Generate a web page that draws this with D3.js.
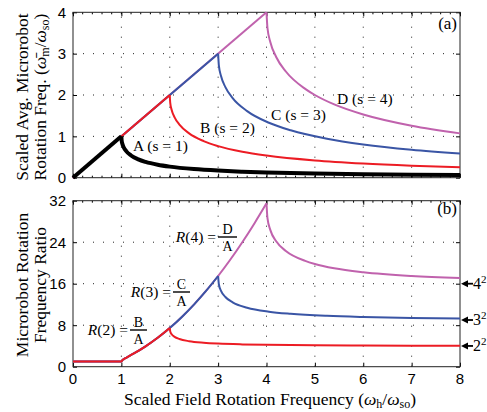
<!DOCTYPE html>
<html>
<head>
<meta charset="utf-8">
<script src="https://cdn.jsdelivr.net/npm/d3@7"></script>
<style>
  body { margin: 0; background: #fff; }
  svg { display: block; }
  .tick-lbl { font-family: "Liberation Sans", Arial, sans-serif; font-size: 15px; }
  .serif { font-family: "Liberation Serif", "Times New Roman", serif; }
</style>
</head>
<body>
<div id="chart"></div>
<script>
// x ticks shared by both panels
const xTicks = [0, 1, 2, 3, 4, 5, 6, 7, 8];
const topYTicks = [0, 1, 2, 3, 4];
const botYTicks = [0, 8, 16, 24, 32];

// (a) scaled avg. rotation freq. per robot
const speedA_x = [0, 1, 1.005, 1.02, 1.05, 1.1, 1.2, 1.35, 1.5, 1.75, 2, 2.5, 3, 3.5, 4, 5, 6, 7, 8];
const speedA_y = [0, 1, 0.905, 0.819, 0.730, 0.642, 0.537, 0.443, 0.382, 0.314, 0.268, 0.209, 0.172, 0.146, 0.127, 0.101, 0.084, 0.072, 0.063];
const speedB_x = [0, 2, 2.01, 2.04, 2.1, 2.2, 2.4, 2.7, 3, 3.5, 4, 5, 6, 7, 8];
const speedB_y = [0, 2, 1.810, 1.638, 1.460, 1.284, 1.073, 0.886, 0.764, 0.628, 0.536, 0.417, 0.343, 0.292, 0.254];
const speedC_x = [0, 3, 3.015, 3.06, 3.15, 3.3, 3.6, 4.05, 4.5, 5.25, 6, 7, 8];
const speedC_y = [0, 3, 2.715, 2.457, 2.190, 1.926, 1.611, 1.329, 1.146, 0.942, 0.804, 0.675, 0.584];
const speedD_x = [0, 4, 4.02, 4.08, 4.2, 4.4, 4.8, 5, 5.4, 6, 7, 8];
const speedD_y = [0, 4, 3.620, 3.276, 2.920, 2.568, 2.148, 2.000, 1.772, 1.528, 1.256, 1.072];

// (b) rotation frequency ratio relative to A
const ratioB_x = [0, 1, 1.02, 1.05, 1.1, 1.25, 1.5, 1.75, 2, 2.01, 2.04, 2.1, 2.2, 2.4, 2.7, 3, 3.5, 4, 5, 6, 7, 8];
const ratioB_y = [1, 1, 1.245, 1.439, 1.714, 2.5, 3.927, 5.576, 7.464, 6.79, 6.25, 5.76, 5.34, 4.92, 4.62, 4.45, 4.30, 4.22, 4.13, 4.09, 4.06, 4.05];
const ratioC_x = [0, 1, 1.02, 1.05, 1.1, 1.25, 1.5, 1.75, 2, 2.25, 2.5, 2.75, 3, 3.015, 3.06, 3.15, 3.3, 3.6, 4.05, 4.5, 5.25, 6, 7, 8];
const ratioC_y = [1, 1, 1.245, 1.439, 1.714, 2.5, 3.927, 5.576, 7.464, 9.598, 11.978, 14.607, 17.485, 15.90, 14.63, 13.44, 12.41, 11.37, 10.60, 10.19, 9.80, 9.58, 9.40, 9.31];
const ratioD_x = [0, 1, 1.02, 1.05, 1.1, 1.25, 1.5, 1.75, 2, 2.25, 2.5, 2.75, 3, 3.25, 3.5, 3.75, 4, 4.02, 4.08, 4.2, 4.4, 4.8, 5, 5.4, 6, 7, 8];
const ratioD_y = [1, 1, 1.245, 1.439, 1.714, 2.5, 3.927, 5.576, 7.464, 9.598, 11.978, 14.607, 17.485, 20.612, 23.989, 27.616, 31.492, 28.64, 26.33, 24.17, 22.31, 20.40, 19.80, 18.97, 18.21, 17.49, 17.10];

// asymptote markers on the right of (b)
const asymVals = [16, 9, 4];
const asymBase = ['4', '3', '2'];

const RED = '#ec1c24', BLUE = '#3a55a5', MAG = '#c062ad';

const W = 487, H = 412;
const left = 73, right = 460;

const svg = d3.select('#chart').append('svg')
  .attr('width', W).attr('height', H);

const x = d3.scaleLinear().domain([0, 8]).range([left, right]);
const yTop = d3.scaleLinear().domain([0, 4]).range([177.7, 12.3]);
const yBot = d3.scaleLinear().domain([0, 32]).range([366.7, 200.7]);

const minorX = d3.range(0, 8.001, 0.2);

function drawFrame(y, yTicks, minorTop, minorBottom) {
  const g = svg.append('g');
  const [y0, y1] = y.range();
  // dotted grid
  g.selectAll('.gx').data(xTicks.slice(1, -1)).join('line')
    .attr('x1', d => x(d)).attr('x2', d => x(d))
    .attr('y1', y0).attr('y2', y1)
    .attr('stroke', '#222').attr('stroke-width', 1)
    .attr('stroke-dasharray', '1,9');
  g.selectAll('.gy').data(yTicks.slice(1, -1)).join('line')
    .attr('x1', left).attr('x2', right)
    .attr('y1', d => y(d)).attr('y2', d => y(d))
    .attr('stroke', '#222').attr('stroke-width', 1)
    .attr('stroke-dasharray', '1,9');

  // minor x ticks
  if (minorBottom) {
    g.selectAll('.mb').data(minorX).join('line')
      .attr('x1', d => x(d)).attr('x2', d => x(d))
      .attr('y1', y0).attr('y2', y0 - 2).attr('stroke', '#000');
  }
  if (minorTop) {
    g.selectAll('.mt').data(minorX).join('line')
      .attr('x1', d => x(d)).attr('x2', d => x(d))
      .attr('y1', y1).attr('y2', y1 + 2).attr('stroke', '#000');
  }

  // major ticks, inward on all sides
  const axB = d3.axisBottom(x).tickValues(xTicks).tickSizeInner(-4).tickSizeOuter(0).tickFormat('');
  const axT = d3.axisTop(x).tickValues(xTicks).tickSizeInner(-4).tickSizeOuter(0).tickFormat('');
  const axL = d3.axisLeft(y).tickValues(yTicks).tickSizeInner(-4).tickSizeOuter(0)
    .tickPadding(7).tickFormat(d3.format('d'));
  const axR = d3.axisRight(y).tickValues(yTicks).tickSizeInner(-4).tickSizeOuter(0).tickFormat('');
  g.append('g').attr('transform', `translate(0,${y0})`).call(axB);
  g.append('g').attr('transform', `translate(0,${y1})`).call(axT);
  const gl = g.append('g').attr('transform', `translate(${left},0)`).call(axL);
  g.append('g').attr('transform', `translate(${right},0)`).call(axR);
  gl.selectAll('text').attr('class', 'tick-lbl').attr('fill', '#000');
  g.selectAll('.domain').remove();
  g.selectAll('.tick line').attr('stroke', '#000');

  g.append('rect').attr('x', left).attr('y', y1)
    .attr('width', right - left).attr('height', y0 - y1)
    .attr('fill', 'none').attr('stroke', '#222').attr('stroke-width', 1);
  return g;
}

drawFrame(yTop, topYTicks, true, true);
drawFrame(yBot, botYTicks, true, false);

// x tick labels under (b)
svg.append('g').selectAll('text').data(xTicks).join('text')
  .attr('class', 'tick-lbl')
  .attr('x', d => x(d)).attr('y', 384)
  .attr('text-anchor', 'middle')
  .text(d => d);

// draw a series split at its peak so the cusp stays sharp
function drawSeries(xs, ys, y, color, width) {
  const pts = xs.map((v, i) => [v, ys[i]]);
  const peak = d3.maxIndex(pts, d => d[1]);
  const line = d3.line().x(d => x(d[0])).y(d => y(d[1])).curve(d3.curveMonotoneX);
  [pts.slice(0, peak + 1), pts.slice(peak)].forEach(seg => {
    svg.append('path').attr('d', line(seg))
      .attr('fill', 'none').attr('stroke', color)
      .attr('stroke-width', width).attr('stroke-linejoin', 'round');
  });
}

drawSeries(speedD_x, speedD_y, yTop, MAG, 2);
drawSeries(speedC_x, speedC_y, yTop, BLUE, 2);
drawSeries(speedB_x, speedB_y, yTop, RED, 2);
drawSeries(speedA_x, speedA_y, yTop, '#000', 4);

drawSeries(ratioD_x, ratioD_y, yBot, MAG, 2);
drawSeries(ratioC_x, ratioC_y, yBot, BLUE, 2);
drawSeries(ratioB_x, ratioB_y, yBot, RED, 2);

// labels in (a)
const labA = [
  { t: 'A (s = 1)', x: 133, y: 151 },
  { t: 'B (s = 2)', x: 200, y: 133 },
  { t: 'C (s = 3)', x: 271, y: 120 },
  { t: 'D (s = 4)', x: 337, y: 104 }
];
svg.append('g').selectAll('text').data(labA).join('text')
  .attr('class', 'serif').attr('font-size', 15.5)
  .attr('x', d => d.x).attr('y', d => d.y).text(d => d.t);

svg.append('text').attr('class', 'serif').attr('font-size', 17)
  .attr('x', 457).attr('y', 29).attr('text-anchor', 'end').text('(a)');
svg.append('text').attr('class', 'serif').attr('font-size', 17)
  .attr('x', 457).attr('y', 214).attr('text-anchor', 'end').text('(b)');

// ratio labels in (b): R(s) = X / A
const fracs = [
  { s: 2, num: 'B', bx0: 130, bx1: 147, by: 330 },
  { s: 3, num: 'C', bx0: 173, bx1: 190, by: 292 },
  { s: 4, num: 'D', bx0: 218, bx1: 237, by: 237 }
];
fracs.forEach(f => {
  const g = svg.append('g').attr('class', 'serif');
  const t = g.append('text').attr('font-size', 15.5)
    .attr('x', f.bx0 - 2).attr('y', f.by + 5).attr('text-anchor', 'end');
  t.append('tspan').attr('font-style', 'italic').text('R');
  t.append('tspan').text(`(${f.s}) =`);
  g.append('line').attr('x1', f.bx0).attr('x2', f.bx1)
    .attr('y1', f.by).attr('y2', f.by).attr('stroke', '#000').attr('stroke-width', 1.4);
  g.append('text').attr('font-size', 14).attr('x', (f.bx0 + f.bx1) / 2).attr('y', f.by - 3)
    .attr('text-anchor', 'middle').text(f.num);
  g.append('text').attr('font-size', 14).attr('x', (f.bx0 + f.bx1) / 2).attr('y', f.by + 14)
    .attr('text-anchor', 'middle').text('A');
});

// asymptote arrows
asymVals.forEach((v, i) => {
  const yy = yBot(v);
  svg.append('line').attr('x1', right + 4).attr('x2', right + 13)
    .attr('y1', yy).attr('y2', yy).attr('stroke', '#000').attr('stroke-width', 1.8);
  svg.append('path')
    .attr('d', `M${right + 1},${yy} L${right + 8},${yy - 3.5} L${right + 8},${yy + 3.5} Z`)
    .attr('fill', '#000');
  const t = svg.append('text').attr('class', 'serif').attr('font-size', 16)
    .attr('x', right + 13).attr('y', yy + 5);
  t.append('tspan').text(asymBase[i]);
  t.append('tspan').attr('font-size', 11).attr('dy', -6).text('2');
});

// axis titles
const yt1 = svg.append('g').attr('transform', 'translate(0,97) rotate(-90)')
  .attr('class', 'serif').attr('font-size', 17.5).attr('text-anchor', 'middle');
yt1.append('text').attr('y', 28).text('Scaled Avg. Microrobot');
const yt1b = yt1.append('text').attr('y', 46);
yt1b.append('tspan').text('Rotation Freq. (');
yt1b.append('tspan').attr('font-style', 'italic').text('ω\u0304');
yt1b.append('tspan').attr('font-size', 12).attr('dy', 3).text('m');
yt1b.append('tspan').attr('dy', -3).text('/');
yt1b.append('tspan').attr('font-style', 'italic').text('ω');
yt1b.append('tspan').attr('font-size', 12).attr('dy', 3).text('so');
yt1b.append('tspan').attr('dy', -3).text(')');

const yt2 = svg.append('g').attr('transform', 'translate(0,285) rotate(-90)')
  .attr('class', 'serif').attr('font-size', 17.5).attr('text-anchor', 'middle');
yt2.append('text').attr('y', 28).text('Microrobot Rotation');
yt2.append('text').attr('y', 46).text('Frequency Ratio');

const xt = svg.append('text').attr('class', 'serif').attr('font-size', 17.5)
  .attr('x', 270).attr('y', 405).attr('text-anchor', 'middle');
xt.append('tspan').text('Scaled Field Rotation Frequency (');
xt.append('tspan').attr('font-style', 'italic').text('ω');
xt.append('tspan').attr('font-size', 12).attr('dy', 2.5).text('h');
xt.append('tspan').attr('dy', -2.5).text('/');
xt.append('tspan').attr('font-style', 'italic').text('ω');
xt.append('tspan').attr('font-size', 12).attr('dy', 2.5).text('so');
xt.append('tspan').attr('dy', -2.5).text(')');
</script>
</body>
</html>
